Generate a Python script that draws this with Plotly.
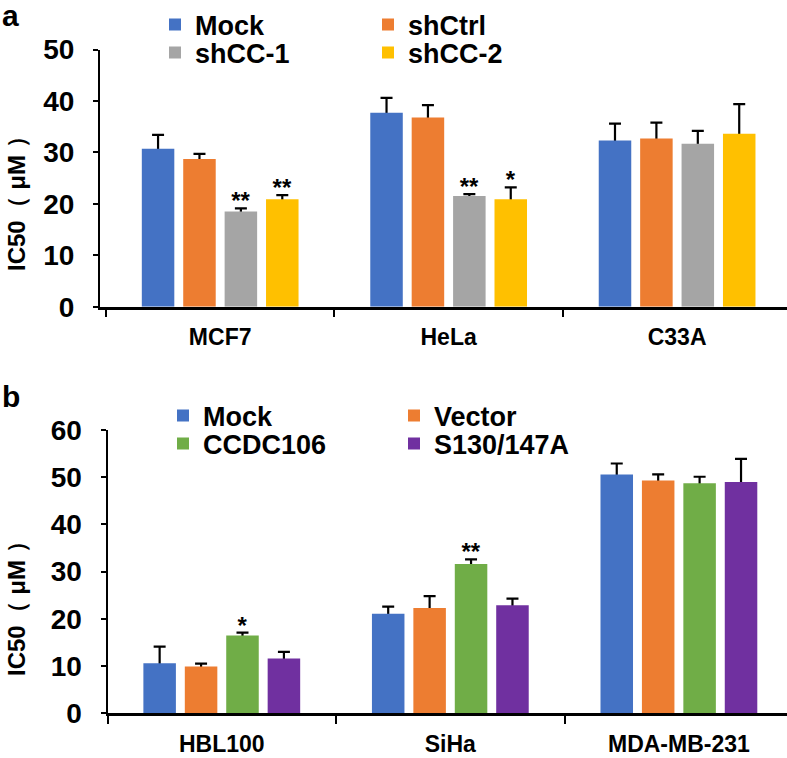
import plotly.graph_objects as go

W, H = 787, 758

# ---------------- data ----------------
cells_a = ["MCF7", "HeLa", "C33A"]
cells_b = ["HBL100", "SiHa", "MDA-MB-231"]
groups_a = ["Mock", "shCtrl", "shCC-1", "shCC-2"]
groups_b = ["Mock", "Vector", "CCDC106", "S130/147A"]

mock_a = [30.7, 37.7, 32.3]
shctrl_a = [28.7, 36.8, 32.7]
shcc1_a = [18.5, 21.5, 31.7]
shcc2_a = [20.9, 20.9, 33.6]
mock_a_err = [2.7, 2.9, 3.3]
shctrl_a_err = [1.0, 2.4, 3.1]
shcc1_a_err = [0.6, 0.4, 2.5]
shcc2_a_err = [0.8, 2.3, 5.8]
shcc1_a_sig = ["**", "**", ""]
shcc2_a_sig = ["**", "*", ""]

mock_b = [10.6, 21.1, 50.6]
vector_b = [9.9, 22.3, 49.3]
ccdc_b = [16.5, 31.6, 48.7]
s130_b = [11.6, 22.9, 49.0]
mock_b_err = [3.5, 1.5, 2.3]
vector_b_err = [0.6, 2.5, 1.3]
ccdc_b_err = [0.6, 1.0, 1.4]
s130_b_err = [1.4, 1.4, 4.9]
ccdc_b_sig = ["*", "**", ""]

y_ticks_a = [0, 10, 20, 30, 40, 50]
y_ticks_b = [0, 10, 20, 30, 40, 50, 60]

colors_a = ["#4472C4", "#ED7D31", "#A5A5A5", "#FFC000"]
colors_b = ["#4472C4", "#ED7D31", "#70AD47", "#7030A0"]

FONT = "Liberation Sans, Arial, sans-serif"
CLEAR = "rgba(0,0,0,0)"

# pixel geometry of the two plot areas
A_TOP, A_BOT = 49.5, 306.7
B_TOP, B_BOT = 430.0, 713.3
STAR_DROP_PX = 9  # pull the stars closer to the error-bar caps

fig = go.Figure()


def add_panel(cells, names, means, errs, sigs, colors, xa, ya, prefix, legends, units_per_px):
    drop = STAR_DROP_PX * units_per_px
    for i, name in enumerate(names):
        og = f"{prefix}{i}"
        # error bars (lower half hidden by the coloured bar drawn afterwards)
        fig.add_trace(go.Bar(
            x=cells, y=means[i], offsetgroup=og, xaxis=xa, yaxis=ya,
            marker=dict(color=CLEAR, line=dict(width=0)),
            error_y=dict(type="data", array=errs[i], symmetric=True,
                         color="black", thickness=2.2, width=6),
            showlegend=False, hoverinfo="skip"))
        # significance stars above error bars
        if sigs[i] is not None:
            fig.add_trace(go.Bar(
                x=cells, y=[m + e - drop for m, e in zip(means[i], errs[i])],
                offsetgroup=og, xaxis=xa, yaxis=ya,
                marker=dict(color=CLEAR, line=dict(width=0)),
                text=sigs[i], textposition="outside", cliponaxis=False,
                constraintext="none", textangle=0,
                textfont=dict(family=FONT, size=24, color="black", weight="bold"),
                showlegend=False, hoverinfo="skip"))
        fig.add_trace(go.Bar(
            x=cells, y=means[i], name=name, offsetgroup=og, xaxis=xa, yaxis=ya,
            marker=dict(color=colors[i], line=dict(width=0)),
            legend=legends[i]))


add_panel(cells_a, groups_a,
          [mock_a, shctrl_a, shcc1_a, shcc2_a],
          [mock_a_err, shctrl_a_err, shcc1_a_err, shcc2_a_err],
          [None, None, shcc1_a_sig, shcc2_a_sig],
          colors_a, "x", "y", "a", ["legend", "legend2", "legend3", "legend4"],
          50 / (A_BOT - A_TOP))
add_panel(cells_b, groups_b,
          [mock_b, vector_b, ccdc_b, s130_b],
          [mock_b_err, vector_b_err, ccdc_b_err, s130_b_err],
          [None, None, ccdc_b_sig, None],
          colors_b, "x2", "y2", "b", ["legend5", "legend6", "legend7", "legend8"],
          60 / (B_BOT - B_TOP))


def px_x(p):
    return p / W


def px_y(p):
    return 1 - p / H


xaxis_common = dict(
    type="category", showline=True, linecolor="black", linewidth=2.5,
    ticks="outside", tickson="boundaries", ticklen=8, tickwidth=2, tickcolor="black",
    showgrid=False, zeroline=False, fixedrange=True, automargin=False,
    tickfont=dict(family=FONT, size=23, color="black", weight="bold"),
    ticklabelstandoff=8,
)
yaxis_common = dict(
    showline=True, linecolor="black", linewidth=2, ticks="outside", ticklen=5,
    tickwidth=2, tickcolor="black", showgrid=False, zeroline=False, fixedrange=True,
    automargin=False,
    tickfont=dict(family=FONT, size=28, color="black", weight="bold"),
    ticklabelstandoff=13,
)

legend_common = dict(
    orientation="v", bgcolor=CLEAR, borderwidth=0, xanchor="left", yanchor="middle",
    font=dict(family=FONT, size=27, color="black", weight="bold"),
    itemclick=False, itemdoubleclick=False, tracegroupgap=0,
)


def leg(xp, yp):
    return dict(legend_common, x=px_x(xp), y=px_y(yp))


fig.update_layout(
    width=W, height=H,
    margin=dict(l=0, r=0, t=0, b=0, autoexpand=False),
    paper_bgcolor="white", plot_bgcolor="white",
    barmode="group", bargap=0.275, bargroupgap=0.215,
    xaxis=dict(xaxis_common, domain=[px_x(100), 1], anchor="y",
               range=[-0.526, 2.481]),
    yaxis=dict(yaxis_common, domain=[px_y(A_BOT), px_y(A_TOP)], anchor="x",
               range=[0, 50], tickvals=y_ticks_a),
    xaxis2=dict(xaxis_common, domain=[px_x(107.5), 1], anchor="y2",
                range=[-0.5, 2.473]),
    yaxis2=dict(yaxis_common, domain=[px_y(B_BOT), px_y(B_TOP)], anchor="x2",
                range=[0, 60], tickvals=y_ticks_b),
    legend=leg(155, 25),
    legend2=leg(368, 25),
    legend3=leg(155, 53),
    legend4=leg(368, 53),
    legend5=leg(163, 416),
    legend6=leg(394, 416),
    legend7=leg(163, 444),
    legend8=leg(394, 444),
    showlegend=True,
    annotations=[
        dict(text="a", x=px_x(0), y=px_y(15), xref="paper", yref="paper",
             xanchor="left", yanchor="middle", showarrow=False,
             font=dict(family=FONT, size=30, color="black", weight="bold")),
        dict(text="b", x=px_x(0), y=px_y(396), xref="paper", yref="paper",
             xanchor="left", yanchor="middle", showarrow=False,
             font=dict(family=FONT, size=30, color="black", weight="bold")),
        dict(text="IC50（ μM ）", x=px_x(16), y=px_y(198), xref="paper", yref="paper",
             xanchor="center", yanchor="middle", showarrow=False, textangle=-90,
             font=dict(family=FONT, size=24, color="black", weight="bold")),
        dict(text="IC50（ μM ）", x=px_x(16), y=px_y(603), xref="paper", yref="paper",
             xanchor="center", yanchor="middle", showarrow=False, textangle=-90,
             font=dict(family=FONT, size=24, color="black", weight="bold")),
    ],
)

fig.write_html(
    "out.html",
    config={"displayModeBar": False},
    post_script="document.body.style.margin='0px';document.body.style.overflow='hidden';",
)
